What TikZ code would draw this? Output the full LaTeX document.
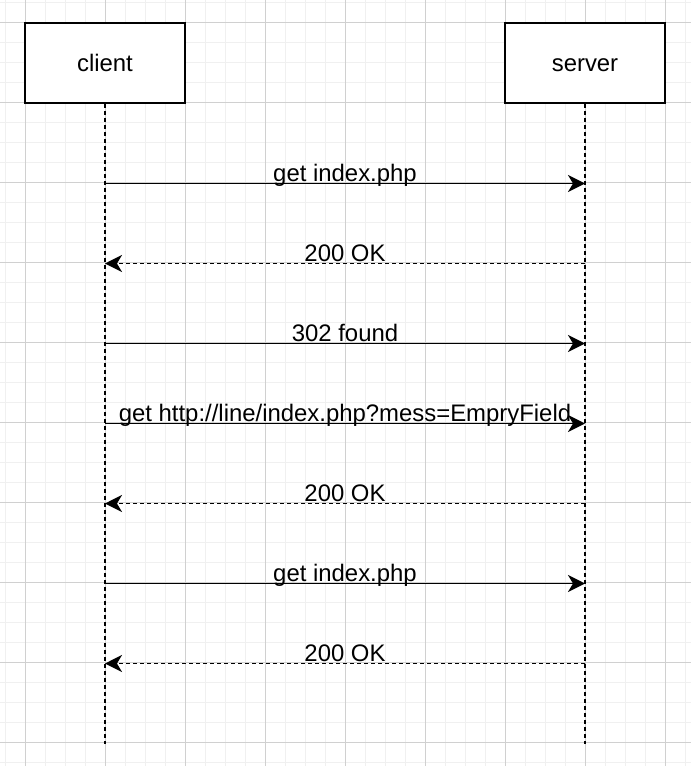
\documentclass[tikz,border=0pt]{standalone}
\usepackage{fontspec}
\setmainfont{Liberation Sans}
\usetikzlibrary{arrows.meta}
\usetikzlibrary{calc}
\definecolor{minorgray}{RGB}{240,240,240}
\definecolor{majorgray}{RGB}{208,208,208}
\tikzstyle{box} = [rectangle, minimum width=160pt, minimum height=80pt, text height=17pt, text depth=0pt, text centered, line width=2pt, draw=black, fill=white]
\tikzstyle{lifeline} = [line width=1.8pt, dash pattern=on 4.7pt off 2.3pt]
\tikzstyle{arrow} = [-{Stealth[length=17pt,width=17pt,inset=5pt]}, line width=1.8pt]
\tikzstyle{reply} = [arrow, dash pattern=on 4pt off 3pt]
\tikzstyle{msglabel} = [anchor=base, yshift=2.5pt, inner sep=0pt]
\newcommand{\step}{80pt}

\begin{document}
\begin{tikzpicture}[x=1pt, y=-1pt, node distance=480pt,
    every node/.style={font=\fontsize{23.9pt}{28pt}\selectfont}]
  \useasboundingbox (0,0) rectangle (691,766);

  % grid
  \foreach \x in {5,25,...,685} \draw[minorgray, line width=1pt] (\x,0) -- (\x,766);
  \foreach \y in {2.5,22.5,...,762.5} \draw[minorgray, line width=1pt] (0,\y) -- (691,\y);
  \foreach \x in {25,105,...,665} \draw[majorgray, line width=1pt] (\x,0) -- (\x,766);
  \foreach \y in {22.5,102.5,...,742.5} \draw[majorgray, line width=1pt] (0,\y) -- (691,\y);

  % Participants
  \node [box]                  (client) at (105,62.5) {client};
  \node [box, right of=client] (server) {server};

  % Lifelines
  \coordinate (clientEnd) at ([yshift=-640pt]client.south);
  \coordinate (serverEnd) at ([yshift=-640pt]server.south);
  \draw [lifeline] (client.south) -- (clientEnd);
  \draw [lifeline] (server.south) -- (serverEnd);

  % Points on the lifelines
  \foreach \i in {1,...,7} {
    \coordinate (c\i) at ([yshift=-\i*\step]client.south);
    \coordinate (s\i) at ([yshift=-\i*\step]server.south);
  }

  % Messages
  \draw [arrow] (c1) -- node [msglabel] {get index.php} (s1);
  \draw [reply] (s2) -- node [msglabel] {200 OK} (c2);
  \draw [arrow] (c3) -- node [msglabel] {302 found} (s3);
  \draw [arrow] (c4) -- node [msglabel] {get http://line/index.php?mess=EmpryField} (s4);
  \draw [reply] (s5) -- node [msglabel] {200 OK} (c5);
  \draw [arrow] (c6) -- node [msglabel] {get index.php} (s6);
  \draw [reply] (s7) -- node [msglabel] {200 OK} (c7);

\end{tikzpicture}
\end{document}
